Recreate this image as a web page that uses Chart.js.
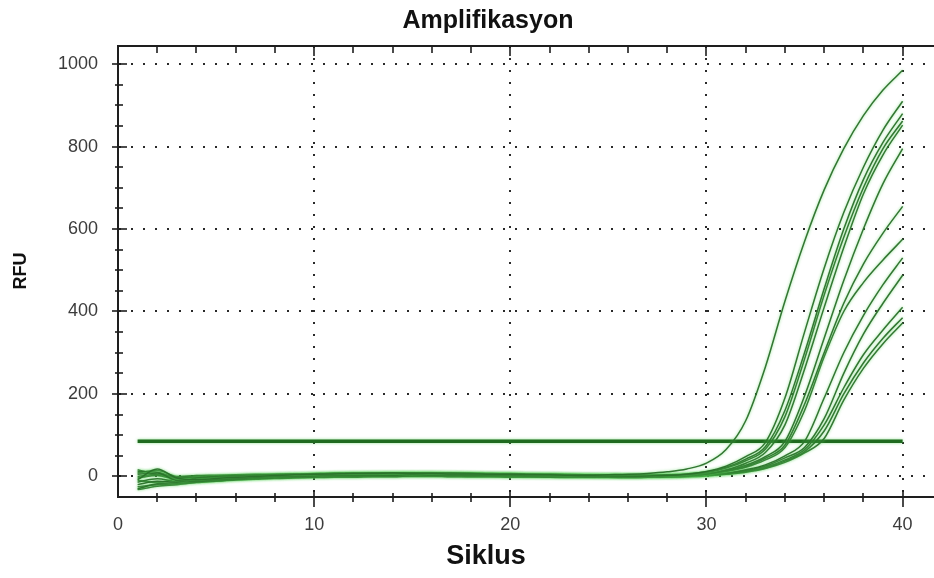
<!DOCTYPE html>
<html>
<head>
<meta charset="utf-8">
<title>Amplifikasyon</title>
<script src="https://cdn.jsdelivr.net/npm/chart.js@4.4.1/dist/chart.umd.min.js"></script>
<style>
  html, body { margin: 0; padding: 0; background: #fff; }
</style>
</head>
<body>
<canvas id="ampChart" width="934" height="578"></canvas>
<script>
// Cycle numbers (x axis)
const cycles = [1, 2, 3, 4, 5, 6, 7, 8, 9, 10,
  11, 12, 13, 14, 15, 16, 17, 18, 19, 20,
  21, 22, 23, 24, 25, 26, 27, 28, 29, 30,
  31, 32, 33, 34, 35, 36, 37, 38, 39, 40];

// RFU readings for each well, cycle 1..40
const wellA = [-8, 18, -4, -8, -5, -2, 0, 2, 4, 5,
  6, 7, 7, 8, 7, 7, 6, 6, 5, 5,
  4, 4, 3, 3, 4, 5, 7, 11, 18, 32,
  65, 135, 265, 425, 570, 695, 795, 875, 937, 985];
const wellB = [5, 8, -10, -12, -8, -6, -3, -1, 0, 1,
  2, 2, 3, 3, 4, 3, 3, 2, 2, 2,
  1, 1, 1, 0, 0, 0, 1, 2, 5, 12,
  25, 48, 82, 190, 350, 505, 640, 750, 840, 910];
const wellC = [-20, -12, -14, -4, -1, 1, 3, 4, 5, 6,
  7, 7, 8, 8, 9, 8, 8, 7, 6, 6,
  5, 5, 4, 4, 3, 3, 3, 4, 6, 11,
  22, 42, 72, 160, 300, 455, 600, 720, 810, 880];
const wellD = [12, 10, -2, -2, 0, 2, 3, 4, 5, 6,
  7, 8, 8, 9, 9, 8, 8, 7, 7, 6,
  5, 4, 4, 3, 3, 2, 2, 3, 4, 9,
  20, 38, 66, 145, 285, 440, 580, 700, 795, 862];
const wellE = [-30, -18, -16, -14, -11, -8, -6, -4, -3, -2,
  -1, -1, 0, 0, 1, 1, 0, 0, 0, -1,
  -1, -2, -2, -2, -2, -3, -2, -1, 1, 6,
  16, 32, 58, 125, 260, 410, 555, 685, 780, 852];
const wellF = [0, 5, -6, -10, -8, -5, -3, -2, 0, 1,
  2, 3, 3, 4, 4, 4, 3, 3, 3, 2,
  2, 2, 1, 1, 1, 0, 0, 1, 2, 6,
  14, 27, 48, 85, 195, 335, 475, 600, 710, 795];
const wellG = [-14, -6, -12, -6, -3, -1, 1, 2, 3, 4,
  5, 5, 6, 6, 6, 6, 6, 5, 5, 5,
  4, 4, 3, 3, 2, 2, 2, 3, 4, 6,
  13, 24, 44, 76, 175, 300, 420, 515, 590, 655];
const wellH = [8, 14, 0, 2, 3, 4, 5, 6, 6, 7,
  8, 8, 9, 9, 9, 9, 8, 8, 7, 7,
  6, 5, 5, 4, 4, 3, 3, 3, 4, 6,
  12, 22, 40, 70, 160, 290, 400, 470, 525, 575];
const wellI = [-25, -20, -18, -12, -10, -7, -5, -3, -2, -1,
  0, 0, 1, 1, 1, 1, 1, 0, 0, 0,
  -1, -1, -1, -1, -2, -2, -2, -1, 0, 3,
  8, 16, 28, 50, 85, 190, 300, 390, 465, 530];
const wellJ = [-4, 2, -8, -9, -7, -4, -2, 0, 1, 2,
  3, 3, 4, 4, 5, 5, 4, 4, 3, 3,
  3, 2, 2, 2, 1, 1, 1, 1, 2, 3,
  7, 14, 25, 45, 70, 140, 250, 345, 420, 488];
const wellK = [-10, -15, -6, -4, -3, -1, 0, 1, 2, 3,
  4, 5, 5, 6, 6, 6, 5, 5, 4, 4,
  3, 3, 2, 2, 1, 1, 1, 1, 2, 3,
  6, 12, 22, 40, 65, 125, 215, 295, 355, 410];
const wellL = [16, 4, -3, 0, 1, 2, 3, 4, 5, 6,
  6, 7, 7, 7, 8, 8, 7, 7, 6, 6,
  5, 5, 4, 3, 3, 2, 2, 2, 3, 4,
  6, 11, 20, 37, 60, 110, 200, 275, 335, 385];
const wellM = [-32, -24, -20, -15, -12, -9, -7, -5, -4, -3,
  -2, -2, -1, -1, 0, 0, -1, -1, -1, -2,
  -2, -2, -3, -3, -3, -3, -2, -2, -1, 1,
  5, 10, 19, 34, 57, 92, 185, 262, 322, 372];

const wells = [wellA, wellB, wellC, wellD, wellE, wellF, wellG,
  wellH, wellI, wellJ, wellK, wellL, wellM];

// Threshold line
const thresholdCycles = [1, 40];
const thresholdRFU = 85;

// Axis ticks
const xLabelTicks = [0, 10, 20, 30, 40];
const yLabelTicks = [0, 200, 400, 600, 800, 1000];

const AXIS_COLOR = '#1e1e1e';
const LABEL_FONT = 'Liberation Sans, Arial, sans-serif';

const datasets = wells.map((vals) => ({
  data: cycles.map((c, i) => ({ x: c, y: vals[i] })),
  borderColor: 'rgba(42, 112, 42, 0.95)',
  borderWidth: 1.5,
  pointRadius: 0,
  cubicInterpolationMode: 'monotone',
  fill: false
}));

datasets.push({
  data: thresholdCycles.map((c) => ({ x: c, y: thresholdRFU })),
  borderColor: '#1f6a1f',
  borderWidth: 3.5,
  pointRadius: 0,
  fill: false
});

// soft light-green glow around the traces
const traceGlow = {
  id: 'traceGlow',
  beforeDatasetsDraw(chart) {
    const ctx = chart.ctx;
    ctx.save();
    ctx.shadowColor = 'rgba(90, 210, 90, 0.7)';
    ctx.shadowBlur = 3;
  },
  afterDatasetsDraw(chart) {
    chart.ctx.restore();
  }
};

// Title, axis titles and the tick marks on all sides
const frameAndText = {
  id: 'frameAndText',
  afterDraw(chart) {
    const { ctx, chartArea: a, scales: { x, y } } = chart;
    ctx.save();
    ctx.strokeStyle = AXIS_COLOR;
    ctx.lineWidth = 2;

    // top border
    ctx.beginPath();
    ctx.moveTo(a.left, a.top);
    ctx.lineTo(a.right, a.top);
    ctx.stroke();

    ctx.lineWidth = 1.6;
    for (let v = 2; v <= 40; v += 2) {
      const px = Math.round(x.getPixelForValue(v));
      const major = v % 10 === 0;
      ctx.beginPath();
      ctx.moveTo(px, major ? a.bottom - 7 : a.bottom - 4);
      ctx.lineTo(px, major ? a.bottom + 10 : a.bottom + 5);
      ctx.moveTo(px, a.top);
      ctx.lineTo(px, major ? a.top + 10 : a.top + 7);
      ctx.stroke();
    }
    for (let v = 0; v <= 1000; v += 50) {
      const py = Math.round(y.getPixelForValue(v));
      const major = v % 200 === 0;
      ctx.beginPath();
      ctx.moveTo(major ? a.left - 6 : a.left - 3, py);
      ctx.lineTo(major ? a.left + 9 : a.left + 5, py);
      ctx.stroke();
    }

    ctx.fillStyle = '#111';
    ctx.textAlign = 'center';
    ctx.textBaseline = 'middle';
    ctx.font = 'bold 25px ' + LABEL_FONT;
    ctx.fillText('Amplifikasyon', 488, 21);
    ctx.font = 'bold 27px ' + LABEL_FONT;
    ctx.fillText('Siklus', 486, 557);

    ctx.translate(21, 271);
    ctx.rotate(-Math.PI / 2);
    ctx.font = 'bold 18px ' + LABEL_FONT;
    ctx.fillText('RFU', 0, 0);
    ctx.restore();
  }
};

const chart = new Chart(document.getElementById('ampChart'), {
  type: 'line',
  data: { datasets },
  plugins: [traceGlow, frameAndText],
  options: {
    responsive: false,
    animation: false,
    layout: { padding: { top: 46, right: 0, left: 0, bottom: 0 } },
    plugins: {
      legend: { display: false },
      tooltip: { enabled: false },
      title: { display: false }
    },
    scales: {
      x: {
        type: 'linear',
        min: 0,
        max: 41.6,
        afterFit: (scale) => { scale.height = 81; },
        afterBuildTicks: (scale) => {
          scale.ticks = xLabelTicks.map((v) => ({ value: v }));
        },
        ticks: {
          autoSkip: false,
          maxRotation: 0,
          padding: 17,
          color: '#3c3c3c',
          font: { family: LABEL_FONT, size: 18 },
          callback: (v) => String(v)
        },
        grid: {
          drawTicks: false,
          color: (c) => (c.tick && c.tick.value > 0 ? '#2a2a2a' : 'rgba(0,0,0,0)'),
          lineWidth: 2
        },
        border: { display: true, color: AXIS_COLOR, width: 2, dash: [2, 10] }
      },
      y: {
        min: -50,
        max: 1044,
        afterFit: (scale) => { scale.width = 118; },
        afterBuildTicks: (scale) => {
          scale.ticks = yLabelTicks.map((v) => ({ value: v }));
        },
        ticks: {
          padding: 20,
          color: '#3c3c3c',
          font: { family: LABEL_FONT, size: 18 },
          callback: (v) => String(v)
        },
        grid: {
          drawTicks: false,
          color: '#2a2a2a',
          lineWidth: 2
        },
        border: { display: true, color: AXIS_COLOR, width: 2, dash: [2, 10] }
      }
    }
  }
});
</script>
</body>
</html>
